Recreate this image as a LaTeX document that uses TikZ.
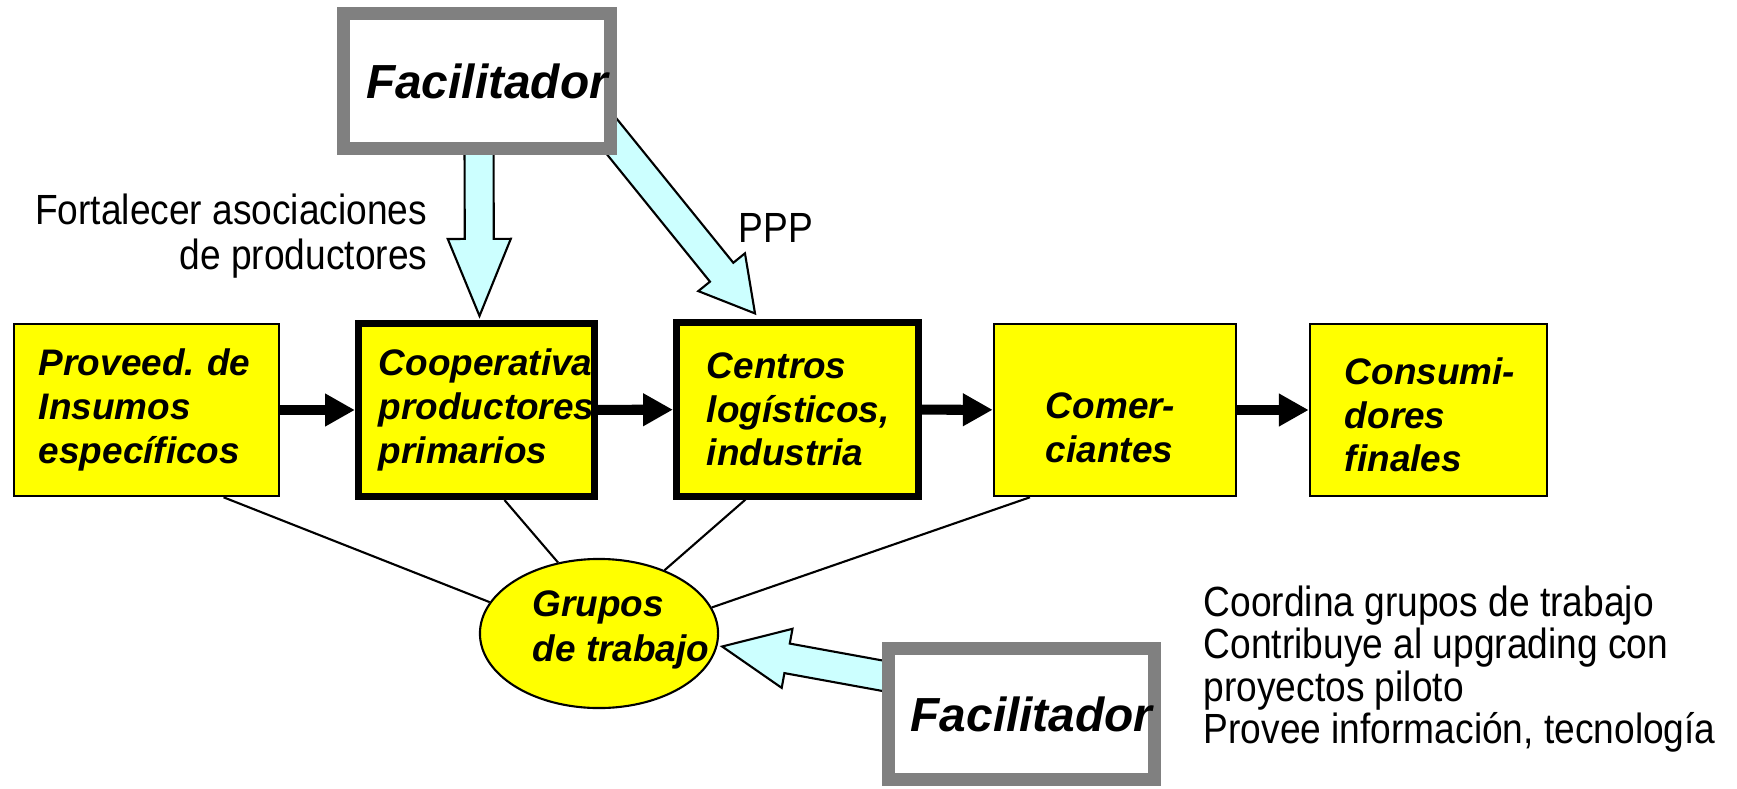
\documentclass[tikz,border=0pt]{standalone}
\usepackage{fontspec}
\setmainfont{Liberation Sans}
\newfontfamily\narrowsans[FakeStretch=0.88]{Liberation Sans}
\usetikzlibrary{arrows.meta,calc,backgrounds,shapes.geometric}
\definecolor{boxyellow}{RGB}{255,255,0}
\definecolor{softcyan}{RGB}{204,255,255}
\definecolor{facgray}{RGB}{128,128,128}

% wide hollow arrow: tail, tip, half shaft, half head, head length
\newcommand{\hollowarrow}[5]{%
  \coordinate (ha) at ($(#2)!#5!(#1)$);
  \draw[softarrow] ($(#1)!#3!90:(#2)$) -- ($(ha)!#3!90:(#2)$) -- ($(ha)!#4!90:(#2)$) -- (#2)
    -- ($(ha)!#4!-90:(#2)$) -- ($(ha)!#3!-90:(#2)$) -- ($(#1)!#3!-90:(#2)$) -- cycle;}

\begin{document}
\begin{tikzpicture}[x=0.01cm,y=-0.01cm,
  chain/.style={draw=black,fill=boxyellow,line width=0.7pt,minimum height=1.72cm,inner sep=0pt,align=left,
    font=\fontsize{10.5}{12.4}\selectfont\bfseries\itshape},
  core/.style={chain,line width=2pt,minimum height=1.73cm},
  facil/.style={draw=facgray,fill=white,line width=3.7pt,minimum width=2.67cm,minimum height=1.35cm,inner sep=0pt,
    font=\fontsize{13.6}{16}\selectfont\bfseries\itshape},
  flow/.style={-{Triangle[length=8.5pt,width=8.8pt]},line width=2.85pt},
  softarrow/.style={draw=black,fill=softcyan,line width=0.6pt,line join=miter},
  link/.style={line width=0.6pt},
  note/.style={inner sep=0pt,font=\fontsize{12}{12}\narrowsans}]
\useasboundingbox (0,0) rectangle (1737,788);

% value chain
\node[chain,minimum width=2.65cm,text width=2.15cm] (proveed) at (146.5,410) {Proveed.~de\\Insumos\\específicos};
\node[core,minimum width=2.36cm,text width=1.95cm] (coop) at (476.5,410) {Cooperativa\\productores\\primarios};
\node[core,minimum width=2.42cm,text width=1.81cm] (centros) at (797.5,409.5) {Centros\\logísticos,\\industria};
\node[chain,minimum width=2.42cm,text width=1.38cm] (comer) at (1115,410) {\rule{0pt}{0.61cm}\mbox{Comer-}\\ciantes};
\node[chain,minimum width=2.37cm,text width=1.67cm] (consumi) at (1428.5,410) {\rule{0pt}{0.37cm}\mbox{Consumi-}\\dores\\finales};
\draw[flow] (proveed) -- (coop);
\draw[flow] (coop) -- (centros);
\draw[flow] (centros) -- (comer);
\draw[flow] (comer) -- (consumi);

% working groups
\node[ellipse,draw=black,fill=boxyellow,line width=0.6pt,minimum width=2.38cm,minimum height=1.49cm,inner sep=0pt] (grupos) at (599,633.5) {};
\node[anchor=west,inner sep=0pt,align=left,font=\fontsize{10.5}{12.6}\selectfont\bfseries\itshape] (grupostxt) at (532,630) {Grupos\\de~trabajo};
\draw[link] ([xshift=0.77cm]proveed.south) -- (grupos.164);
\draw[link] ([xshift=0.28cm]coop.south) -- (grupos.120);
\draw[link] ([xshift=-0.52cm]centros.south) -- (grupos.44);
\draw[link] ([xshift=-0.85cm]comer.south) -- (grupos.13);

% facilitators
\node[facil] (fac1) at (477,81) {\hspace*{0.2cm}Facilitador};
\node[facil,minimum width=2.66cm,minimum height=1.31cm] (fac2) at (1021.5,714) {\hspace*{0.2cm}Facilitador};

\begin{scope}[on background layer]
  \coordinate (t1) at ($(fac1.south)+(2,-14)$);
  \coordinate (h1) at ($(coop.north)+(3,-4)$);
  \hollowarrow{t1}{h1}{0.145cm}{0.315cm}{0.77cm}
  \coordinate (t2) at ($(fac1.south east)+(-17,-33)$);
  \coordinate (h2) at ($(centros.north)+(-42.5,-6)$);
  \hollowarrow{t2}{h2}{0.15cm}{0.30cm}{0.53cm}
  \coordinate (t3) at ($(fac2.west)+(13,-36)$);
  \coordinate (h3) at ($(grupos.east)+(3,13)$);
  \hollowarrow{t3}{h3}{0.15cm}{0.30cm}{0.66cm}
\end{scope}

% texts
\node[note,anchor=east,align=right,font=\fontsize{12}{12.6}\narrowsans] (fortalecer) at (428,236) {Fortalecer asociaciones\\de productores};
\node[note] (ppp) at (776,228) {PPP};
\node[note,anchor=west,align=left] (tareas) at (1203,669) {Coordina grupos de trabajo\\Contribuye al upgrading con\\proyectos piloto\\Provee información, tecnología};
\end{tikzpicture}
\end{document}
